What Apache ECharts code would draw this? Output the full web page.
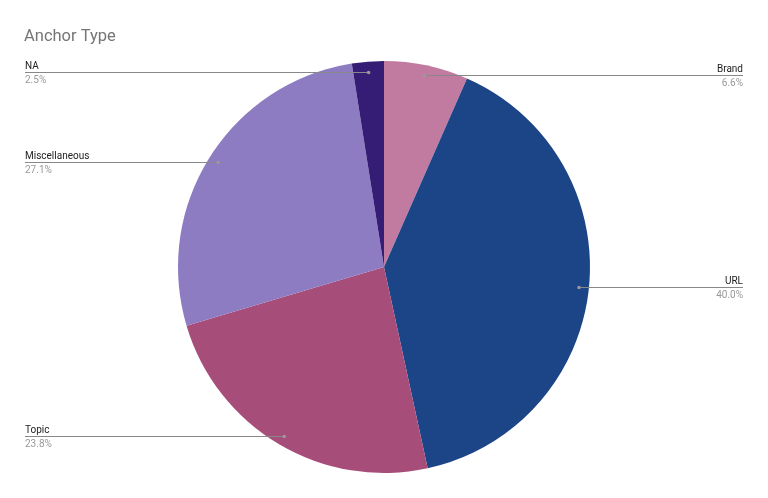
<!DOCTYPE html>
<html>
<head>
<meta charset="utf-8">
<script src="https://cdn.jsdelivr.net/npm/echarts@6/dist/echarts.min.js"></script>
<style>html,body{margin:0;padding:0;background:#fff}#c{width:768px;height:498px}</style>
</head>
<body>
<div id="c"></div>
<script>
const titleText = 'Anchor Type';
const categories = ['Brand', 'URL', 'Topic', 'Miscellaneous', 'NA'];
const values = [6.6, 40.0, 23.8, 27.1, 2.5];
const colors = ['#c27ba0', '#1c4587', '#a64d79', '#8e7cc3', '#351c75'];

const chart = echarts.init(document.getElementById('c'));
const CX = 384, CY = 267, R = 206, DOT_R = 196;
const LEFT_X = 25, RIGHT_X = 743;
const total = values.reduce((a, b) => a + b, 0);
const anchors = [];
let cum = 0;
values.forEach(v => {
  const a = (cum + v / 2) / total * 2 * Math.PI;
  anchors.push([CX + DOT_R * Math.sin(a), CY - DOT_R * Math.cos(a)]);
  cum += v;
});

const graphics = [];
anchors.forEach(pt => {
  const ex = pt[0] < CX ? LEFT_X : RIGHT_X;
  const y = Math.round(pt[1]) + 0.5;
  graphics.push({
    type: 'line', shape: { x1: pt[0], y1: y, x2: ex, y2: y },
    style: { stroke: '#888', lineWidth: 1 }, z: 100
  });
  graphics.push({
    type: 'circle', shape: { cx: pt[0], cy: y, r: 1.8 },
    style: { fill: '#999' }, z: 101
  });
});

chart.setOption({
  animation: false,
  title: {
    text: titleText, left: 19, top: 23,
    textStyle: { fontFamily: 'Roboto', fontSize: 16.5, fontWeight: 'normal', color: '#757575' }
  },
  series: [{
    type: 'pie',
    center: [CX, CY],
    radius: R,
    startAngle: 90,
    clockwise: true,
    data: categories.map((c, i) => ({ name: c, value: values[i], itemStyle: { color: colors[i] } })),
    label: {
      show: true,
      position: 'outside',
      formatter: p => '{n|' + p.name + '}\n{p|' + values[p.dataIndex].toFixed(1) + '%}',
      rich: {
        n: { fontFamily: 'Roboto', fontSize: 10, color: '#222', lineHeight: 12 },
        p: { fontFamily: 'Roboto', fontSize: 10, color: '#999', lineHeight: 16 }
      }
    },
    labelLine: { show: false },
    labelLayout: function (params) {
      const pt = anchors[params.dataIndex];
      const isLeft = pt[0] < CX;
      return {
        x: isLeft ? LEFT_X : RIGHT_X,
        y: Math.round(pt[1]) + 2.5,
        align: isLeft ? 'left' : 'right',
        verticalAlign: 'middle'
      };
    }
  }],
  graphic: graphics
});
</script>
</body>
</html>
